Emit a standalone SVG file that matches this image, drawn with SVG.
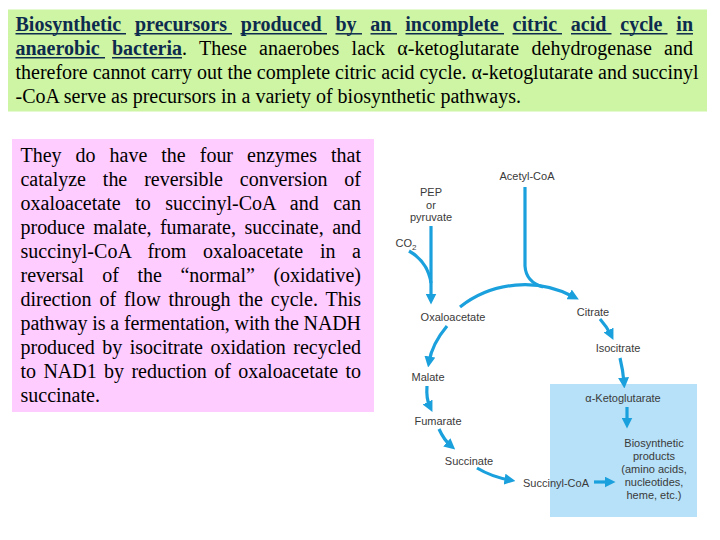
<svg xmlns="http://www.w3.org/2000/svg" width="720" height="540" viewBox="0 0 720 540">
<style>
.ser{font-family:"Liberation Serif","Times New Roman",serif;font-size:20px;fill:#000}
.hd{font-weight:bold;fill:#0d2b4e}
.ul{stroke:#0d2b4e;stroke-width:1.5}
.lbl{font-family:"Liberation Sans",Arial,sans-serif;font-size:11px;fill:#3a3a3a;text-anchor:middle}
.arr{fill:none;stroke:#1aa0dc;stroke-width:3.2}
</style>
<defs>
<marker id="ah" markerUnits="userSpaceOnUse" markerWidth="11" markerHeight="11" refX="5" refY="5" orient="auto" viewBox="0 0 10 10">
<path d="M0,0 L10,5 L0,10 z" fill="#1aa0dc"/>
</marker>
</defs>
<rect width="720" height="540" fill="#fff"/>

<g id="title-box">
<rect x="8" y="9.5" width="699" height="102" fill="#cdf5a3"/>
<text class="ser hd" x="15.5" y="31" word-spacing="8.8" textLength="677.5" lengthAdjust="spacing">Biosynthetic precursors produced by an incomplete citric acid cycle in</text>
<line class="ul" x1="15.5" y1="33.8" x2="126" y2="33.8"/>
<line class="ul" x1="134.5" y1="33.8" x2="232" y2="33.8"/>
<line class="ul" x1="240.5" y1="33.8" x2="327" y2="33.8"/>
<line class="ul" x1="335.5" y1="33.8" x2="362" y2="33.8"/>
<line class="ul" x1="370.5" y1="33.8" x2="397" y2="33.8"/>
<line class="ul" x1="405.5" y1="33.8" x2="504" y2="33.8"/>
<line class="ul" x1="512.5" y1="33.8" x2="562" y2="33.8"/>
<line class="ul" x1="571" y1="33.8" x2="611.5" y2="33.8"/>
<line class="ul" x1="620" y1="33.8" x2="667.5" y2="33.8"/>
<line class="ul" x1="676.5" y1="33.8" x2="693" y2="33.8"/>
<text class="ser hd" x="15.5" y="55">anaerobic</text>
<text class="ser hd" x="112" y="55">bacteria</text>
<line class="ul" x1="15.5" y1="57.8" x2="105" y2="57.8"/>
<line class="ul" x1="112" y1="57.8" x2="182" y2="57.8"/>
<text class="ser" x="182" y="55" word-spacing="7.2" textLength="511" lengthAdjust="spacing">. These anaerobes lack α-ketoglutarate dehydrogenase and</text>
<text class="ser" x="15.5" y="79" textLength="683" lengthAdjust="spacing">therefore cannot carry out the complete citric acid cycle. α-ketoglutarate and succinyl</text>
<text class="ser" x="15.5" y="103">-CoA serve as precursors in a variety of biosynthetic pathways.</text>
</g>

<g id="note-box">
<rect x="12" y="139" width="362" height="273" fill="#ffccff"/>
<text class="ser" x="20.5" y="162" word-spacing="9" textLength="340.5" lengthAdjust="spacing">They do have the four enzymes that</text>
<text class="ser" x="20.5" y="186" word-spacing="12" textLength="340.5" lengthAdjust="spacing">catalyze the reversible conversion of</text>
<text class="ser" x="20.5" y="210" word-spacing="9.4" textLength="340.5" lengthAdjust="spacing">oxaloacetate to succinyl-CoA and can</text>
<text class="ser" x="20.5" y="234" word-spacing="3.5" textLength="340.5" lengthAdjust="spacing">produce malate, fumarate, succinate, and</text>
<text class="ser" x="20.5" y="258" word-spacing="11.6" textLength="340.5" lengthAdjust="spacing">succinyl-CoA from oxaloacetate in a</text>
<text class="ser" x="20.5" y="282" word-spacing="13.6" textLength="340.5" lengthAdjust="spacing">reversal of the “normal” (oxidative)</text>
<text class="ser" x="20.5" y="306" word-spacing="2.9" textLength="340.5" lengthAdjust="spacing">direction of flow through the cycle. This</text>
<text class="ser" x="20.5" y="330" textLength="340.5" lengthAdjust="spacing">pathway is a fermentation, with the NADH</text>
<text class="ser" x="20.5" y="354" word-spacing="2.5" textLength="340.5" lengthAdjust="spacing">produced by isocitrate oxidation recycled</text>
<text class="ser" x="20.5" y="378" word-spacing="2.4" textLength="340.5" lengthAdjust="spacing">to NAD1 by reduction of oxaloacetate to</text>
<text class="ser" x="20.5" y="402">succinate.</text>
</g>

<g id="products-box">
<rect x="550" y="384" width="147" height="133" fill="#b6e1f8"/>
</g>

<g id="connectors">
<path class="arr" d="M525 187 L525 266 Q526 282 543 287"/>
<path class="arr" d="M460 307 A105 105 0 0 1 574 297" marker-end="url(#ah)"/>
<path class="arr" d="M431 226 L431 299" marker-end="url(#ah)"/>
<path class="arr" d="M409 251 Q428 262 431 283"/>
<path class="arr" d="M447 326 Q432 344 429 362" marker-end="url(#ah)"/>
<path class="arr" d="M427 386 Q426 399 430 407" marker-end="url(#ah)"/>
<path class="arr" d="M439 429 Q444 440 451 446" marker-end="url(#ah)"/>
<path class="arr" d="M477 468 Q492 477 510 480" marker-end="url(#ah)"/>
<path class="arr" d="M600 319 Q607 327 611 335" marker-end="url(#ah)"/>
<path class="arr" d="M620 358 Q623 370 624 383" marker-end="url(#ah)"/>
<path class="arr" d="M627 407 L627 423" marker-end="url(#ah)"/>
<path class="arr" d="M594 482 L610 482" marker-end="url(#ah)"/>
</g>

<g id="acetyl-coa"><text class="lbl" x="527" y="180">Acetyl-CoA</text></g>
<g id="pep"><text class="lbl" x="431" y="196">PEP</text><text class="lbl" x="431" y="209">or</text><text class="lbl" x="431" y="221">pyruvate</text></g>
<g id="co2"><text class="lbl" x="406" y="247">CO<tspan font-size="8" dy="2.5">2</tspan></text></g>
<g id="oxaloacetate"><text class="lbl" x="453" y="321">Oxaloacetate</text></g>
<g id="citrate"><text class="lbl" x="593" y="316">Citrate</text></g>
<g id="isocitrate"><text class="lbl" x="618" y="352">Isocitrate</text></g>
<g id="malate"><text class="lbl" x="428" y="381">Malate</text></g>
<g id="fumarate"><text class="lbl" x="438" y="425">Fumarate</text></g>
<g id="succinate"><text class="lbl" x="469" y="465">Succinate</text></g>
<g id="succinyl-coa"><text class="lbl" x="556" y="487">Succinyl-CoA</text></g>
<g id="alpha-kg"><text class="lbl" x="623" y="402">α-Ketoglutarate</text></g>
<g id="biosynthetic"><text class="lbl" x="654" y="447">Biosynthetic</text><text class="lbl" x="654" y="460">products</text><text class="lbl" x="654" y="473">(amino acids,</text><text class="lbl" x="654" y="486">nucleotides,</text><text class="lbl" x="654" y="499">heme, etc.)</text></g>
</svg>
